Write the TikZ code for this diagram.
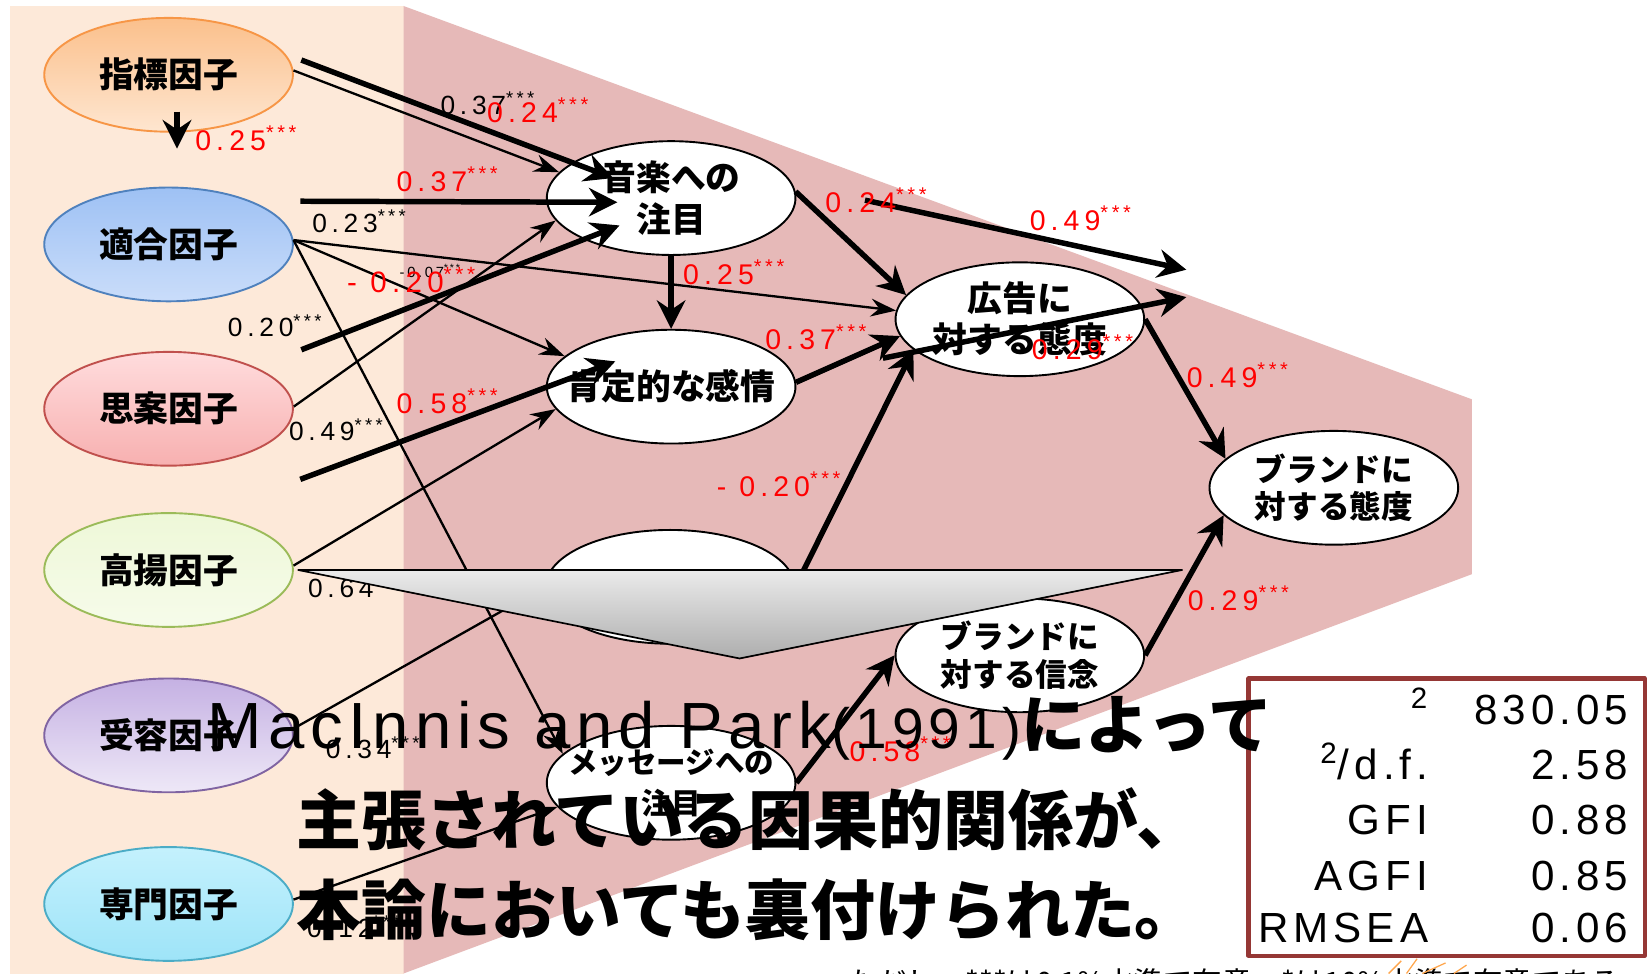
\documentclass[tikz,border=0pt]{standalone}
\usepackage{fontspec}
\setmainfont{Liberation Sans}
\newfontfamily\jp{Noto Sans CJK JP}
\newfontfamily\lblfont{Liberation Sans}[LetterSpace=18]
\newfontfamily\bigfont{Liberation Sans}[LetterSpace=9]
\newfontfamily\boxfont{Liberation Sans}[LetterSpace=12]
\usetikzlibrary{arrows.meta,shapes.geometric}
\definecolor{panel}{HTML}{FDE9D9}
\definecolor{funnel}{HTML}{E6B9B8}
\definecolor{boxred}{HTML}{953735}
\definecolor{fb1}{HTML}{F79646}\definecolor{ft1}{HTML}{FBC08C}\definecolor{fl1}{HTML}{FEE6D0}
\definecolor{fb2}{HTML}{4F81BD}\definecolor{ft2}{HTML}{9EC1F4}\definecolor{fl2}{HTML}{CADDFA}
\definecolor{fb3}{HTML}{C0504D}\definecolor{ft3}{HTML}{FFDCDD}\definecolor{fl3}{HTML}{F7B0B0}
\definecolor{fb4}{HTML}{9BBB59}\definecolor{ft4}{HTML}{EEF8D8}\definecolor{fl4}{HTML}{F6FBEA}
\definecolor{fb5}{HTML}{8064A2}\definecolor{ft5}{HTML}{C5B1E3}\definecolor{fl5}{HTML}{EEE8F7}
\definecolor{fb6}{HTML}{4BACC6}\definecolor{ft6}{HTML}{C4F1FD}\definecolor{fl6}{HTML}{9EE4F8}
\newcommand\pstar{\textsuperscript{***}}
\begin{document}
\begin{tikzpicture}[x=0.5pt,y=-0.5pt,line join=round,
  fac/.style={ellipse,draw,line width=0.9pt,minimum width=118pt,minimum height=54pt,inner sep=0pt,font=\jp\bfseries\fontsize{16.5}{19.5}\selectfont},
  var/.style={ellipse,draw,fill=white,line width=0.9pt,minimum width=118pt,minimum height=54pt,inner sep=0pt,align=center,font=\jp\bfseries\fontsize{16.5}{19.5}\selectfont},
  thinarr/.style={line width=1.1pt,-{Stealth[length=12pt,width=8.5pt,inset=4pt]}},
  thickarr/.style={line width=2.6pt,-{Stealth[length=13.5pt,width=13.5pt,inset=4.5pt]}},
  rlab/.style={anchor=west,inner sep=0pt,text=red,font=\lblfont\fontsize{13.5}{13.5}\selectfont},
  blab/.style={rlab,text=black,font=\lblfont\fontsize{12.5}{12.5}\selectfont}]
\fill[white] (0,0) rectangle (1568,924);
\useasboundingbox (0,0) rectangle (1568,924);
\fill[panel] (9.5,5.7) rectangle (383,924);
\fill[funnel] (383,5.7) -- (1397,379) -- (1397,545) -- (383,924) -- cycle;
\foreach \n/\y/\t [count=\i] in {F1/71/指標因子,F2/232/適合因子,F3/388/思案因子,F4/541/高揚因子,F5/698/受容因子,F6/858/専門因子}
  \node[fac,draw=fb\i,top color=ft\i,bottom color=fl\i] (\n) at (160,\y) {\t};
\node[var] (M) at (637,188) {音楽への\\注目};
\node[var,inner xsep=-12pt] (P) at (637,367) {肯定的な感情};
\node[var] (H) at (636,557) {};
\node[var,inner xsep=-14pt,font=\jp\bfseries\fontsize{14}{19.5}\selectfont] (Q) at (637,743) {メッセージへの\\注目};
\node[var] (Ad) at (968,303) {広告に\\対する態度};
\node[var,font=\jp\bfseries\fontsize{15}{17.5}\selectfont] (Br) at (1266,463) {ブランドに\\対する態度};
\node[var,font=\jp\bfseries\fontsize{15}{18}\selectfont] (Be) at (968,622) {ブランドに\\対する信念};
\path (286,57) coordinate (a1) (582,169) coordinate (a1e)
  (285,191) coordinate (a2) (586,192) coordinate (a2e)
  (286,332) coordinate (a3) (588,214) coordinate (a3e)
  (285,455) coordinate (a4) (584,343) coordinate (a4e)
  (821,190) coordinate (a5) (1126,256) coordinate (a5e)
  (838,340) coordinate (a6) (1126,282) coordinate (a6e)
  (168,106) coordinate (d1) (168,141) coordinate (d2);
\draw[thinarr] (F1.2) -- (M.167);
\draw[thinarr] (F3.1) -- (M.191);
\draw[thinarr] (F2.2) -- (P.164);
\draw[thinarr] (F2.2) -- (Ad.176);
\draw[thinarr] (F2.2) -- (Q.165);
\draw[thinarr] (F4.2) -- (P.191);
\draw[thinarr] (F5.3) -- (H.west);
\draw[thinarr] (F6.2) -- (Q.192);
\foreach \s in {1,...,6}
  \draw[thickarr] (a\s) -- (a\s e);
\draw[thickarr] (d1) -- (d2);
\draw[thickarr] (M.south) -- (P.north);
\draw[thickarr] (M.3) -- (Ad.168);
\draw[thickarr] (P.2) -- (Ad.188);
\draw[thickarr] (H.east) -- (Ad.196);
\draw[thickarr] (Ad.east) -- (Br.165);
\draw[thickarr] (Be.east) -- (Br.194);
\draw[thickarr] (Q.east) -- (Be.west);
\foreach \x/\y/\t [count=\i] in {398/98/- 0.37,296/210/0.23,216/309/0.20,274/408/0.49,292/557/0.64,309/710/0.34,291/880/0.12}
  \node[blab] (b\i) at (\x,\y) {\t\pstar};
\node[blab,font=\lblfont\fontsize{7}{7}\selectfont] (b8) at (379,257) {-0.07\pstar};
\foreach \x/\y/\t [count=\i] in {185/131/0.25,462/105/0.24,376/170/0.37,648/258/0.25,376/381/0.58,783/190/0.24,977/207/0.49,726/320/0.37,979/330/0.29,1126/356/0.49,680/460/- 0.20,1127/568/0.29,806/711/0.58}
  \node[rlab] (r\i) at (\x,\y) {\t\pstar};
\node[rlab,font=\lblfont\fontsize{14}{14}\selectfont] (r14) at (329,266) {- 0.20\pstar};
\path[draw=black,line width=0.8pt,top color=black!8,bottom color=black!32] (283,541) -- (1122,541) -- (702,625) -- cycle;
\draw[boxred,line width=1.9pt,fill=white] (1185,644) rectangle (1561,907);
\foreach \k/\v/\y [count=\i] in {\textsuperscript{2}/830.05/688,{\textsuperscript{2}/d.f.}/2.58/740,GFI/0.88/792,AGFI/0.85/845,RMSEA/0.06/895}{
  \node[anchor=base east,inner sep=0pt,font=\boxfont\fontsize{20}{20}\selectfont] (k\i) at (1356,\y) {\k};
  \node[anchor=base east,inner sep=0pt,font=\boxfont\fontsize{20}{20}\selectfont] (v\i) at (1546,\y) {\v};
}
\node[anchor=base west,inner sep=0pt] (t1) at (197,710) {{\bigfont\fontsize{31}{31}\selectfont MacInnis and Park}{\bigfont\fontsize{27}{27}\selectfont(1991)}{\jp\bfseries\fontsize{30.5}{30.5}\selectfont によって}};
\node[anchor=west,inner sep=0pt,font=\jp\bfseries\fontsize{30.8}{30.8}\selectfont] (t2) at (281,778) {主張されている因果的関係が、};
\node[anchor=west,inner sep=0pt,font=\jp\bfseries\fontsize{30.8}{30.8}\selectfont] (t3) at (281,864) {本論においても裏付けられた。};
\node[anchor=west,inner sep=0pt,font=\jp\fontsize{14}{14}\selectfont] (note) at (804,932) {ただし、***は0.1\%水準で有意、*は10\%水準で有意である};
\draw[orange!70,line width=0.6pt] (1318,924) -- (1330,912) (1335,924) -- (1345,910) (1350,924) -- (1372,914) (1380,924) -- (1392,916);
\end{tikzpicture}
\end{document}
